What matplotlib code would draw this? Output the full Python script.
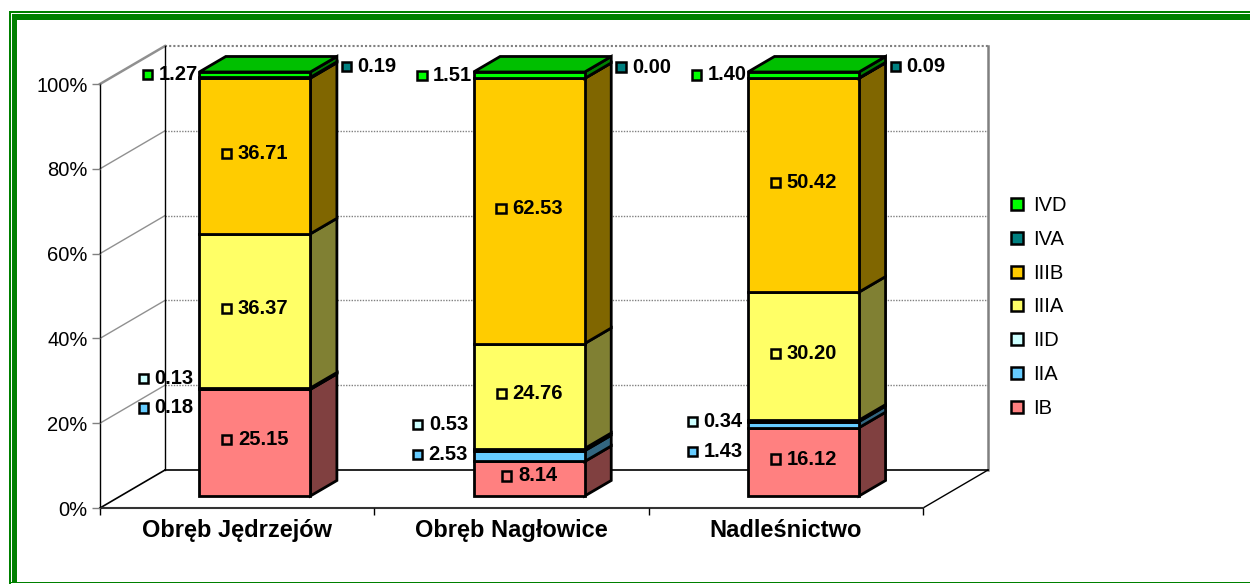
import matplotlib.pyplot as plt
from matplotlib.patches import Polygon, Rectangle
from matplotlib.lines import Line2D
from matplotlib.offsetbox import DrawingArea, TextArea, HPacker, AnnotationBbox
from matplotlib.colors import to_rgb

plt.rcParams['font.family'] = ['Liberation Sans', 'DejaVu Sans']

# data (percent share of each class per unit)
categories = ['Obręb Jędrzejów', 'Obręb Nagłowice', 'Nadleśnictwo']
series = ['IB', 'IIA', 'IID', 'IIIA', 'IIIB', 'IVA', 'IVD']
ib = [25.15, 8.14, 16.12]
iia = [0.18, 2.53, 1.43]
iid = [0.13, 0.53, 0.34]
iiia = [36.37, 24.76, 30.20]
iiib = [36.71, 62.53, 50.42]
iva = [0.19, 0.00, 0.09]
ivd = [1.27, 1.51, 1.40]
colors = ['#FF8080', '#66CCFF', '#CCFFFF', '#FFFF66', '#FFCC00', '#008080', '#00FF00']
values = [ib, iia, iid, iiia, iiib, iva, ivd]

# label placement for the small lower series (front-axis percent)
low_label_pct = [23.6, 12.7, 13.4]

W, H = 1250, 584
fig = plt.figure(figsize=(W / 100, H / 100), dpi=100)
ax = fig.add_axes([100 / W, (H - 508) / H, 823 / W, 424 / H])
ax.set_xlim(0, 3)
ax.set_ylim(0, 100)
for s in ax.spines.values():
    s.set_visible(False)

PX_X = 823 / 3
PX_Y = 424 / 100
DX = 65 / PX_X
DY = 38 / PX_Y


def proj(x, y, z):
    return x + z * DX, y + z * DY


def shade(c, f):
    r, g, b = to_rgb(c)
    return (r * f, g * f, b * f)


def line3(p, q, **kw):
    a, b = proj(*p), proj(*q)
    ax.plot([a[0], b[0]], [a[1], b[1]], clip_on=False, **kw)


# walls, floor and gridlines
for v in [20, 40, 60, 80]:
    line3((0, v, 1), (3, v, 1), color='#808080', lw=1, ls=(0, (1, 1)), zorder=1)
    line3((0, v, 0), (0, v, 1), color='#909090', lw=1, zorder=1)
line3((0, 100, 1), (3, 100, 1), color='#808080', lw=1.5, ls=(0, (1, 1)), zorder=1)
line3((0, 100, 0), (0, 100, 1), color='#909090', lw=1.8, zorder=1)
line3((0, 0, 1), (0, 100, 1), color='black', lw=1, zorder=1)
line3((3, 0, 1), (3, 100, 1), color='#808080', lw=1.8, zorder=1)
line3((0, 0, 1), (3, 0, 1), color='black', lw=1.2, zorder=1)
line3((3, 0, 0), (3, 0, 1), color='black', lw=1, zorder=1)
line3((0, 0, 0), (0, 0, 1), color='black', lw=1.2, zorder=1)
line3((0, 0, 0), (3, 0, 0), color='#333333', lw=1.5, zorder=1)
line3((0, 0, 0), (0, 100, 0), color='black', lw=1, zorder=1)

# 3d stacked bars
z0, z1 = 0.316, 0.724
bw = 0.405
for i in range(len(categories)):
    x0 = i + 0.287
    x1 = x0 + bw
    bottom = 0
    for k, vals in enumerate(values):
        top = bottom + vals[i]
        c = colors[k]
        side = [proj(x1, bottom, z0), proj(x1, bottom, z1), proj(x1, top, z1), proj(x1, top, z0)]
        front = [proj(x0, bottom, z0), proj(x1, bottom, z0), proj(x1, top, z0), proj(x0, top, z0)]
        ax.add_patch(Polygon(side, closed=True, fc=shade(c, 0.5), ec='black', lw=2,
                             joinstyle='miter', clip_on=False, zorder=2))
        ax.add_patch(Polygon(front, closed=True, fc=c, ec='black', lw=2,
                             joinstyle='miter', clip_on=False, zorder=2))
        bottom = top
    topface = [proj(x0, bottom, z0), proj(x1, bottom, z0), proj(x1, bottom, z1), proj(x0, bottom, z1)]
    ax.add_patch(Polygon(topface, closed=True, fc=shade(colors[-1], 0.75), ec='black', lw=2,
                         joinstyle='miter', clip_on=False, zorder=2))


def data_label(xy, txt, color, align, dx=0, dy=0):
    da = DrawingArea(8, 8, 0, 0)
    da.add_artist(Rectangle((0.7, 0.7), 6.6, 6.6, fc=color, ec='black', lw=1.8))
    ta = TextArea(txt, textprops=dict(fontsize=14.5, fontweight='bold'))
    box = HPacker(children=[da, ta], align='center', pad=0, sep=4)
    ab = AnnotationBbox(box, xy, xybox=(dx, dy), xycoords='data', boxcoords='offset points',
                        box_alignment=(align, 0.5), frameon=False, pad=0,
                        annotation_clip=False, zorder=5)
    ax.add_artist(ab)


for i in range(len(categories)):
    x0 = i + 0.287
    x1 = x0 + bw
    cum = [0]
    for vals in values:
        cum.append(cum[-1] + vals[i])
    for k in [0, 3, 4]:
        ymid = (cum[k] + cum[k + 1]) / 2
        data_label(proj((x0 + x1) / 2, ymid, z0), f'{values[k][i]:.2f}', colors[k], 0.5, dx=0, dy=2)
    # top small series
    data_label(proj(x0, (cum[6] + cum[7]) / 2, z0), f'{ivd[i]:.2f}', colors[6], 1, dx=-1)
    data_label(proj(x1, (cum[5] + cum[6]) / 2, z1), f'{iva[i]:.2f}', colors[5], 0, dx=3, dy=-3)
    # lower small series
    lx = proj(x0, 0, z0)[0]
    data_label((lx, low_label_pct[i]), f'{iia[i]:.2f}', colors[1], 1, dx=-4)
    data_label((lx, low_label_pct[i] + 7.0), f'{iid[i]:.2f}', colors[2], 1, dx=-4)

# axes ticks
ax.set_xticks([0.5, 1.5, 2.5])
ax.set_xticklabels(categories, fontsize=17, fontweight='bold')
ax.set_xticks([0, 1, 2, 3], minor=True)
ax.tick_params(axis='x', which='major', length=0, pad=8)
ax.tick_params(axis='x', which='minor', length=5, width=1, color='black', direction='out')
ax.set_yticks([0, 20, 40, 60, 80, 100])
ax.set_yticklabels([f'{v}%' for v in [0, 20, 40, 60, 80, 100]], fontsize=14.5)
ax.tick_params(axis='y', length=6, width=1, color='#808080', pad=3)

# legend
handles = [Line2D([], [], marker='s', ls='none', mfc=colors[k], mec='black', mew=1.8, ms=8,
                  label=series[k]) for k in range(len(series) - 1, -1, -1)]
fig.legend(handles=handles, loc='center left', bbox_to_anchor=(1010 / W, (H - 307) / H),
           frameon=False, fontsize=14.5, handlelength=0.7, handletextpad=0.45,
           labelspacing=0.74, borderpad=0, borderaxespad=0)

# green frame
green = '#008000'
tf = fig.transFigure


def frame_rect(x, y, w, h):
    fig.add_artist(Rectangle((x / W, 1 - (y + h) / H), w / W, h / H, fc=green, ec='none',
                             transform=tf))


frame_rect(9, 11, W, 1.5)
frame_rect(12, 14, W, 6)
frame_rect(9, 11, 1.5, 573)
frame_rect(12, 14, 5.5, 568)
frame_rect(9, 581.5, W, 1.5)

fig.savefig('out.png', dpi=100)
